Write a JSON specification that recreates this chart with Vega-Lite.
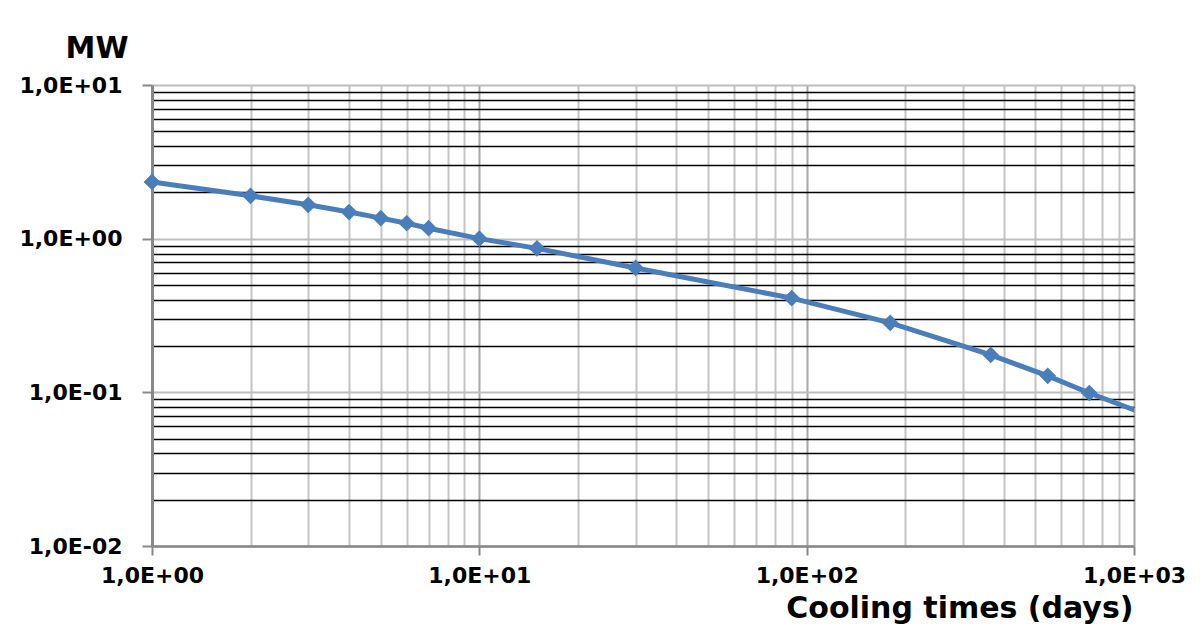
{
  "$schema": "https://vega.github.io/schema/vega-lite/v6.json",
  "width": 982,
  "height": 461,
  "autosize": {"type": "none"},
  "padding": {"left": 152, "top": 85, "right": 66, "bottom": 84},
  "background": "white",
  "config": {
    "view": {"stroke": null},
    "font": "DejaVu Sans"
  },
  "data": {
    "values": [
      {"t": 1, "mw": 2.34},
      {"t": 2, "mw": 1.9},
      {"t": 3, "mw": 1.66},
      {"t": 4, "mw": 1.49},
      {"t": 5, "mw": 1.36},
      {"t": 6, "mw": 1.26},
      {"t": 7, "mw": 1.17},
      {"t": 10, "mw": 1.0},
      {"t": 15, "mw": 0.865},
      {"t": 30, "mw": 0.645},
      {"t": 90, "mw": 0.41},
      {"t": 180, "mw": 0.283},
      {"t": 365, "mw": 0.175},
      {"t": 545, "mw": 0.128},
      {"t": 730, "mw": 0.099},
      {"t": 1095, "mw": 0.0715}
    ]
  },
  "encoding": {
    "x": {
      "field": "t",
      "type": "quantitative",
      "scale": {"type": "log", "domain": [1, 1000], "nice": false},
      "axis": {
        "title": "Cooling times (days)",
        "titleFont": "DejaVu Sans",
        "titleFontSize": 30,
        "titleFontWeight": "bold",
        "titleColor": "black",
        "titleAnchor": "end",
        "titleAlign": "right",
        "titleBaseline": "alphabetic",
        "titleX": 981,
        "titleY": 71,
        "values": [1,2,3,4,5,6,7,8,9,10,20,30,40,50,60,70,80,90,100,200,300,400,500,600,700,800,900,1000],
        "labelExpr": "abs(log(datum.value)/LN10 - round(log(datum.value)/LN10)) < 1e-6 ? '1,0E' + (round(log(datum.value)/LN10) < 0 ? '-' : '+') + '0' + abs(round(log(datum.value)/LN10)) : ''",
        "labelFont": "DejaVu Sans",
        "labelFontSize": 22,
        "labelFontWeight": "bold",
        "labelColor": "black",
        "labelOverlap": false,
        "labelFlush": false,
        "labelBound": false,
        "labelPadding": 10,
        "grid": true,
        "gridColor": {"condition": {"test": "abs(log(datum.value)/LN10 - round(log(datum.value)/LN10)) < 1e-6", "value": "#a6a6a6"}, "value": "#c4c4c4"},
        "gridWidth": 2,
        "tickOpacity": {"condition": {"test": "abs(log(datum.value)/LN10 - round(log(datum.value)/LN10)) < 1e-6", "value": 1}, "value": 0},
        "tickColor": "#888888",
        "tickSize": 9,
        "tickWidth": 2,
        "domainColor": "#888888",
        "domainWidth": 2.5,
        "zindex": 0
      }
    },
    "y": {
      "field": "mw",
      "type": "quantitative",
      "scale": {"type": "log", "domain": [0.01, 10], "nice": false},
      "axis": {
        "title": "MW",
        "titleFont": "DejaVu Sans",
        "titleFontSize": 30,
        "titleFontWeight": "bold",
        "titleColor": "black",
        "titleAngle": 0,
        "titleAlign": "right",
        "titleBaseline": "alphabetic",
        "titleX": -24,
        "titleY": -28,
        "values": [0.01,0.02,0.03,0.04,0.05,0.06,0.07,0.08,0.09,0.1,0.2,0.3,0.4,0.5,0.6,0.7,0.8,0.9,1,2,3,4,5,6,7,8,9,10],
        "labelExpr": "abs(log(datum.value)/LN10 - round(log(datum.value)/LN10)) < 1e-6 ? '1,0E' + (round(log(datum.value)/LN10) < 0 ? '-' : '+') + '0' + abs(round(log(datum.value)/LN10)) : ''",
        "labelFont": "DejaVu Sans",
        "labelFontSize": 22,
        "labelFontWeight": "bold",
        "labelColor": "black",
        "labelOverlap": false,
        "labelFlush": false,
        "labelBound": false,
        "labelPadding": 20,
        "grid": true,
        "gridColor": {"condition": {"test": "abs(log(datum.value)/LN10 - round(log(datum.value)/LN10)) < 1e-6", "value": "#bdbdbd"}, "value": "#000000"},
        "gridWidth": {"condition": {"test": "abs(log(datum.value)/LN10 - round(log(datum.value)/LN10)) < 1e-6", "value": 2}, "value": 1.5},
        "tickOpacity": {"condition": {"test": "abs(log(datum.value)/LN10 - round(log(datum.value)/LN10)) < 1e-6", "value": 1}, "value": 0},
        "tickColor": "#888888",
        "tickSize": 10,
        "tickWidth": 2,
        "domainColor": "#888888",
        "domainWidth": 3,
        "zindex": 0
      }
    }
  },
  "layer": [
    {
      "mark": {"type": "line", "color": "#4a7ebb", "strokeWidth": 5, "clip": true}
    },
    {
      "transform": [{"filter": "datum.t <= 1000"}],
      "mark": {"type": "point", "shape": "diamond", "size": 280, "filled": true, "color": "#4a7ebb", "opacity": 1}
    }
  ]
}
